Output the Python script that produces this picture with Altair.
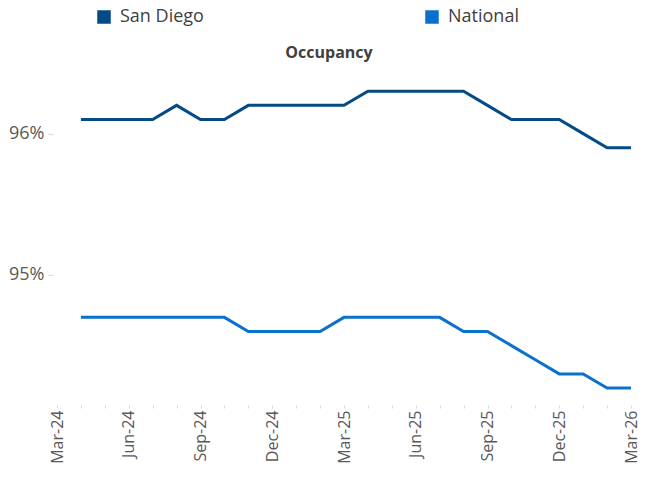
import altair as alt
import pandas as pd

months = ["Mar-24", "Apr-24", "May-24", "Jun-24", "Jul-24", "Aug-24", "Sep-24", "Oct-24",
          "Nov-24", "Dec-24", "Jan-25", "Feb-25", "Mar-25", "Apr-25", "May-25", "Jun-25",
          "Jul-25", "Aug-25", "Sep-25", "Oct-25", "Nov-25", "Dec-25", "Jan-26", "Feb-26", "Mar-26"]
data_months = months[1:]
san_diego = [96.1, 96.1, 96.1, 96.1, 96.2, 96.1, 96.1, 96.2, 96.2, 96.2, 96.2, 96.2,
             96.3, 96.3, 96.3, 96.3, 96.3, 96.2, 96.1, 96.1, 96.1, 96.0, 95.9, 95.9]
national = [94.7, 94.7, 94.7, 94.7, 94.7, 94.7, 94.7, 94.6, 94.6, 94.6, 94.6, 94.7,
            94.7, 94.7, 94.7, 94.7, 94.6, 94.6, 94.5, 94.4, 94.3, 94.3, 94.2, 94.2]
series = ["San Diego", "National"]
colors = ["#044A86", "#0A72CC"]
quarter_labels = ["Mar-24", "Jun-24", "Sep-24", "Dec-24", "Mar-25", "Jun-25", "Sep-25", "Dec-25", "Mar-26"]
title_text = ["Occupancy"]

rows = []
for m, v in zip(data_months, san_diego):
    rows.append({"month": m, "value": v, "series": "San Diego"})
for m, v in zip(data_months, national):
    rows.append({"month": m, "value": v, "series": "National"})
df = pd.DataFrame(rows)

label_test = " || ".join([f"datum.value == '{q}'" for q in quarter_labels])

# solid square legend symbol drawn with densely overlapping strokes
square_path = ("M-1,-1H1V1H-1Z M-1,-0.9H1 M-1,-0.8H1 M-1,-0.7H1 M-1,-0.6H1 M-1,-0.5H1 "
               "M-1,-0.4H1 M-1,-0.3H1 M-1,-0.2H1 M-1,-0.1H1 M-1,0H1 M-1,0.1H1 M-1,0.2H1 "
               "M-1,0.3H1 M-1,0.4H1 M-1,0.5H1 M-1,0.6H1 M-1,0.7H1 M-1,0.8H1 M-1,0.9H1")

lines = alt.Chart(df).mark_line(strokeWidth=3).encode(
    x=alt.X("month:O", sort=months,
            scale=alt.Scale(domain=months, type="point", padding=0),
            axis=alt.Axis(title=None, labelAngle=270, labelFontSize=16, labelColor="#595959",
                          labelFont="Open Sans", domain=False, tickSize=3, tickColor="#d9d9d9",
                          labelPadding=2, labelExpr=f"({label_test}) ? datum.value : ''")),
    y=alt.Y("value:Q",
            scale=alt.Scale(domain=[94.08, 96.45], nice=False, zero=False),
            axis=alt.Axis(title=None, values=[95, 96], labelExpr="format(datum.value, 'd') + '%'",
                          labelFontSize=18, labelColor="#595959", labelFont="Open Sans",
                          domain=False, grid=False, tickSize=5, tickColor="#d9d9d9",
                          offset=4, labelPadding=4)),
    color=alt.Color("series:N", sort=series,
                    scale=alt.Scale(domain=series, range=colors),
                    legend=alt.Legend(orient="none", legendX=38, legendY=-62, direction="horizontal",
                                      title=None, symbolType=square_path, symbolSize=144,
                                      symbolOpacity=1,
                                      labelFontSize=18, labelColor="#404040",
                                      labelFont="Open Sans", columnPadding=219, labelOffset=7)),
)

title = alt.Chart(pd.DataFrame({"t": title_text})).mark_text(
    fontSize=16, fontWeight="bold", color="#404040", font="Open Sans",
    align="center", baseline="middle"
).encode(text="t:N", x=alt.value(272), y=alt.value(-17))

chart = alt.layer(lines, title).properties(
    width=574,
    height=335,
    autosize=alt.AutoSizeParams(type="none"),
    padding={"left": 49, "top": 62, "right": 7, "bottom": 63},
).configure_view(stroke=None)

chart.save("out.html", embed_options={"renderer": "svg", "actions": False})
